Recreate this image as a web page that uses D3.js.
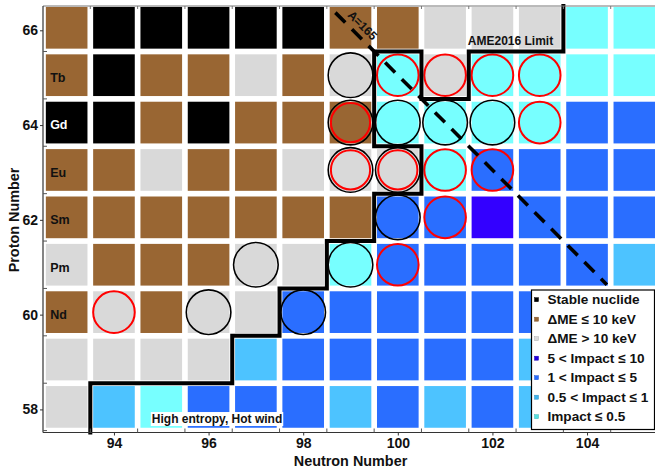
<!DOCTYPE html>
<html><head><meta charset="utf-8">
<script src="https://cdn.jsdelivr.net/npm/d3@7"></script>
<style>
body{margin:0;background:#fff}
svg text{font-family:"Liberation Sans",Arial,sans-serif;font-weight:bold}
</style>
</head><body>
<svg id="chart" width="655" height="468"></svg>
<script>
// ---------------- data ----------------
const neutronNumbers = [93,94,95,96,97,98,99,100,101,102,103,104,105];
const protonNumbers  = [66,65,64,63,62,61,60,59,58];
// category codes: S stable, B dME<=10keV, G dME>10keV, D 5<I<=10, U 1<I<=5, L 0.5<I<=1, C I<=0.5
const row66 = ["B","S","S","S","S","S","B","B","G","G","G","C","C"];
const row65 = ["B","S","B","B","G","B","G","C","G","C","C","C","C"];
const row64 = ["S","S","B","S","B","B","B","C","C","C","C","U","U"];
const row63 = ["B","B","G","B","B","G","G","G","C","U","U","U","U"];
const row62 = ["B","B","B","B","B","B","B","U","U","D","U","U","U"];
const row61 = ["G","B","B","B","G","G","C","U","U","U","U","U","L"];
const row60 = ["B","G","B","G","G","U","U","U","U","U","U","U","U"];
const row59 = ["G","G","G","G","L","U","U","U","U","U","L","U","U"];
const row58 = ["G","L","C","U","U","U","L","U","L","U","L","U","U"];
const categoryRows = [row66,row65,row64,row63,row62,row61,row60,row59,row58];

const categoryCodes  = ["S","B","G","D","U","L","C"];
const categoryLabels = ["Stable nuclide","ΔME ≤ 10 keV","ΔME > 10 keV","5 < Impact ≤ 10","1 < Impact ≤ 5","0.5 < Impact ≤ 1","Impact ≤ 0.5"];
const categoryColors = ["#000000","#996633","#d9d9d9","#3300ff","#2a6eff","#4dc3ff","#77ffff"];
const legendSquareColors = ["#000000","#996633","#d9d9d9","#2200dd","#2a6eff","#3fb4ee","#55e0e0"];

const elementZ      = [65,64,63,62,61,60];
const elementLabels = ["Tb","Gd","Eu","Sm","Pm","Nd"];

// [N, Z]
const blackCircles = [[99,65],[99,64],[100,64],[101,64],[102,64],[99,63],[100,63],[100,62],[97,61],[99,61],[96,60],[98,60]];
const redCircles   = [[100,65],[101,65],[102,65],[103,65],[103,64],[101,63],[102,63],[101,62],[100,61],[94,60]];
const redInnerCircles = [[99,64],[99,63],[100,63]];

// AME2016 limit staircase [N, Z]
const limitPath = [[93.5,57.46],[93.5,58.5],[96.5,58.5],[96.5,59.5],[97.5,59.5],[97.5,60.5],[98.5,60.5],[98.5,61.5],
  [99.5,61.5],[99.5,62.5],[100.5,62.5],[100.5,63.5],[99.5,63.5],[99.5,65.5],[100.5,65.5],[100.5,64.5],
  [101.5,64.5],[101.5,65.5],[103.5,65.5],[103.5,66.46]];
// A = N + Z = 165 line
const isobarLine = [[98.68,66.32],[104.42,60.58]];

const xTicks = [94,96,98,100,102,104];
const yTicks = [58,60,62,64,66];

// ---------------- drawing ----------------
const svg = d3.select("#chart");
const x = d3.scaleLinear().domain([92.5,105.5]).range([43,658]);
const y = d3.scaleLinear().domain([57.46,66.46]).range([432.5,6]);
const unitX = x(1)-x(0), unitY = y(0)-y(1);
const cw = unitX*0.88, ch = unitY*0.88;
const colorOf = d3.scaleOrdinal().domain(categoryCodes).range(categoryColors);

const cells = [];
categoryRows.forEach((row,i)=>row.forEach((c,j)=>cells.push({N:neutronNumbers[j],Z:protonNumbers[i],c})));

const plot = svg.append("g");
plot.selectAll("rect.cell").data(cells).join("rect").attr("class","cell")
  .attr("x",d=>x(d.N)-cw/2).attr("y",d=>y(d.Z)-ch/2).attr("width",cw).attr("height",ch)
  .attr("fill",d=>colorOf(d.c));

// element labels
plot.selectAll("text.el").data(elementZ).join("text").attr("class","el")
  .attr("x",x(93)-16.5).attr("y",d=>y(d)+6.8)
  .attr("font-size",12.5)
  .attr("fill",(d,i)=>elementLabels[i]==="Gd"?"#fff":"#111")
  .text((d,i)=>elementLabels[i]);

// circles
plot.selectAll("circle.bk").data(blackCircles).join("circle").attr("class","bk")
  .attr("cx",d=>x(d[0])).attr("cy",d=>y(d[1])).attr("r",22.3)
  .attr("fill","none").attr("stroke","#000").attr("stroke-width",1.6);
plot.selectAll("circle.rd").data(redCircles).join("circle").attr("class","rd")
  .attr("cx",d=>x(d[0])).attr("cy",d=>y(d[1])).attr("r",20.8)
  .attr("fill","none").attr("stroke","#ff0000").attr("stroke-width",2);
plot.selectAll("circle.rdi").data(redInnerCircles).join("circle").attr("class","rdi")
  .attr("cx",d=>x(d[0])).attr("cy",d=>y(d[1])).attr("r",19.6)
  .attr("fill","none").attr("stroke","#ff0000").attr("stroke-width",2);

// limit staircase
const line = d3.line().x(d=>x(d[0])).y(d=>y(d[1]));
plot.append("path").datum(limitPath).attr("d",line)
  .attr("fill","none").attr("stroke","#000").attr("stroke-width",4).attr("stroke-linejoin","miter").attr("stroke-linecap","square");

// A=165 dashed line
plot.append("path").datum(isobarLine).attr("d",line)
  .attr("fill","none").attr("stroke","#000").attr("stroke-width",3.6).attr("stroke-dasharray","14,9.5");
plot.append("text").attr("transform",`translate(${x(99.25)},${y(66.05)}) rotate(45)`)
  .attr("text-anchor","middle").attr("dominant-baseline","central").attr("font-size",12).attr("fill","#111")
  .text("A=165");

// AME2016 Limit
plot.append("text").attr("x",x(101.48)).attr("y",y(65.64)).attr("font-size",12).attr("fill","#111").text("AME2016 Limit");

// High entropy label with white box
const he = plot.append("text").attr("x",x(94.8)).attr("y",y(57.66)).attr("font-size",12).attr("fill","#111").text("High entropy, Hot wind");
const bb = he.node().getBBox();
plot.append("rect").attr("x",bb.x-1).attr("y",bb.y).attr("width",bb.width+2).attr("height",bb.height).attr("fill","#fff");
he.raise();

// frame
const frame = svg.append("g");
frame.append("line").attr("x1",x(92.5)).attr("x2",655).attr("y1",6).attr("y2",6).attr("stroke","#777").attr("stroke-width",1);
frame.append("line").attr("x1",x(92.5)).attr("x2",x(92.5)).attr("y1",6).attr("y2",432.5).attr("stroke","#333").attr("stroke-width",1.2);
frame.append("line").attr("x1",x(92.5)).attr("x2",655).attr("y1",432.5).attr("y2",432.5).attr("stroke","#333").attr("stroke-width",1.2);

// minor ticks at half-integers
const halfN = d3.range(93.5,105.5,1), halfZ = d3.range(57.5,66.5,1);
frame.selectAll("line.mxb").data(halfN).join("line").attr("x1",d=>x(d)).attr("x2",d=>x(d)).attr("y1",432.5).attr("y2",428.5).attr("stroke","#555");
frame.selectAll("line.mxt").data(halfN).join("line").attr("x1",d=>x(d)).attr("x2",d=>x(d)).attr("y1",6).attr("y2",9).attr("stroke","#777");
frame.selectAll("line.myl").data(halfZ).join("line").attr("x1",43).attr("x2",47).attr("y1",d=>y(d)).attr("y2",d=>y(d)).attr("stroke","#555");

// axes
const xAxis = d3.axisBottom(x).tickValues(xTicks).tickSize(3).tickPadding(3).tickFormat(d3.format("d"));
const gx = svg.append("g").attr("transform","translate(0,432.5)").call(xAxis);
gx.select(".domain").remove();
gx.selectAll("line").attr("stroke","#333");
gx.selectAll("text").attr("font-size",14).attr("fill","#111").attr("y",15.5).attr("dy",0);

const yAxis = d3.axisLeft(y).tickValues(yTicks).tickSize(3).tickPadding(2).tickFormat(d3.format("d"));
const gy = svg.append("g").attr("transform","translate(43,2.5)").call(yAxis);
gy.select(".domain").remove();
gy.selectAll("line").attr("stroke","#333");
gy.selectAll("text").attr("font-size",14).attr("fill","#111");

svg.append("text").attr("x",350.5).attr("y",466).attr("text-anchor","middle").attr("font-size",14.4).attr("fill","#111").text("Neutron Number");
svg.append("text").attr("transform","translate(19,220) rotate(-90)").attr("text-anchor","middle").attr("font-size",14.4).attr("fill","#111").text("Proton Number");

// legend
const lg = svg.append("g").attr("transform","translate(531.5,290)");
lg.append("rect").attr("width",123).attr("height",139.5).attr("fill","#fff").attr("stroke","#000").attr("stroke-width",1.2);
const items = lg.selectAll("g.it").data(categoryCodes).join("g").attr("class","it")
  .attr("transform",(d,i)=>`translate(0,${9.7+i*19.5})`);
items.append("rect").attr("x",3).attr("y",-2).attr("width",4).attr("height",4)
  .attr("fill",(d,i)=>legendSquareColors[i]).attr("stroke",(d,i)=>d3.color(legendSquareColors[i]).darker(0.6)).attr("stroke-width",0.5);
items.append("text").attr("x",16).attr("y",0).attr("dominant-baseline","central").attr("font-size",13.6).attr("fill","#111")
  .text((d,i)=>categoryLabels[i]);
</script>
</body></html>
